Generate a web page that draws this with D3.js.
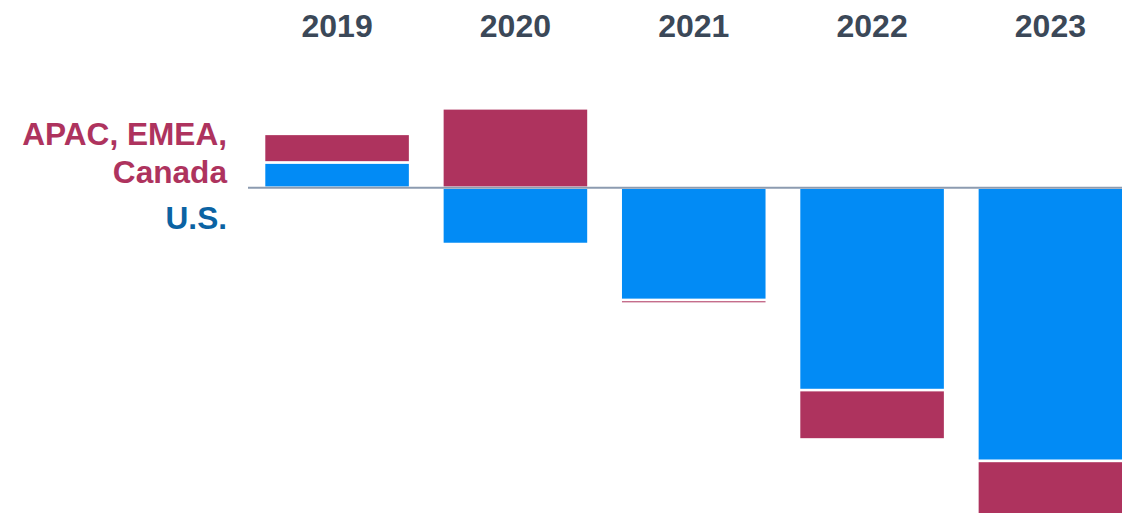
<!DOCTYPE html>
<meta charset='utf-8'>
<head>
  <title>U.S. vs APAC, EMEA, Canada</title>
  <style>
    body { margin: 0; background: #fff; }
    svg { display: block; font-family: 'Liberation Sans', Arial, sans-serif; font-weight: bold; }
  </style>
</head>
<body>
  <div id='chart'></div>
</body>
<script src='https://d3js.org/d3.v7.min.js'></script>
<script>

var years = ['2019', '2020', '2021', '2022', '2023'],
    usValues = [10.1, -22.5, -44.9, -80.9, -109.2],
    apacValues = [11.4, 31.7, -1.4, -19.7, -24];

var width = 1122,
    height = 513;

var colors = { us: '#028bf5', apac: '#ae335e' };

var rows = years.map(function(y, i) {
  return { year: y, us: usValues[i], apac: apacValues[i] };
});

var series = d3.stack()
    .keys(['us', 'apac'])
    .offset(d3.stackOffsetDiverging)(rows);

var x = d3.scaleBand()
    .domain(years)
    .range([248, 1139.5])
    .paddingInner(0.181)
    .paddingOuter(0.09);

var y = d3.scaleLinear()
    .domain([-130, 75])
    .range([height, 0]);

var svg = d3.select('#chart').append('svg')
    .attr('width', width)
    .attr('height', height);

svg.append('g').selectAll('g')
    .data(series)
  .enter().append('g')
    .attr('fill', function(d) { return colors[d.key]; })
  .selectAll('rect')
    .data(function(d) { return d; })
  .enter().append('rect')
    .attr('x', function(d) { return x(d.data.year); })
    .attr('width', x.bandwidth())
    .attr('y', function(d) { return y(Math.max(d[0], d[1])); })
    .attr('height', function(d) { return Math.abs(y(d[0]) - y(d[1])); })
    .attr('stroke', '#fff')
    .attr('stroke-width', 2.5);

// zero line
svg.append('line')
    .attr('x1', 248)
    .attr('x2', width)
    .attr('y1', y(0))
    .attr('y2', y(0))
    .attr('stroke', '#8c9bb0')
    .attr('stroke-width', 2);

// years along the top
var xAxis = svg.append('g')
    .attr('transform', 'translate(0,40)')
    .call(d3.axisTop(x).tickSize(0).tickPadding(3));
xAxis.select('.domain').remove();
xAxis.selectAll('text')
    .attr('fill', '#3b4858')
    .style('font-size', '32px')
    .style('font-family', "'Liberation Sans', Arial, sans-serif")
    .style('font-weight', 'bold');

// series labels on the left
var labels = svg.append('g')
    .attr('text-anchor', 'end')
    .style('font-size', '31.6px');

labels.append('text')
    .attr('x', 227).attr('y', 145)
    .attr('fill', colors.apac)
    .text('APAC, EMEA,');
labels.append('text')
    .attr('x', 227).attr('y', 183)
    .attr('fill', colors.apac)
    .text('Canada');
labels.append('text')
    .attr('x', 227).attr('y', 229)
    .attr('fill', '#0b63a3')
    .text('U.S.');

</script>
